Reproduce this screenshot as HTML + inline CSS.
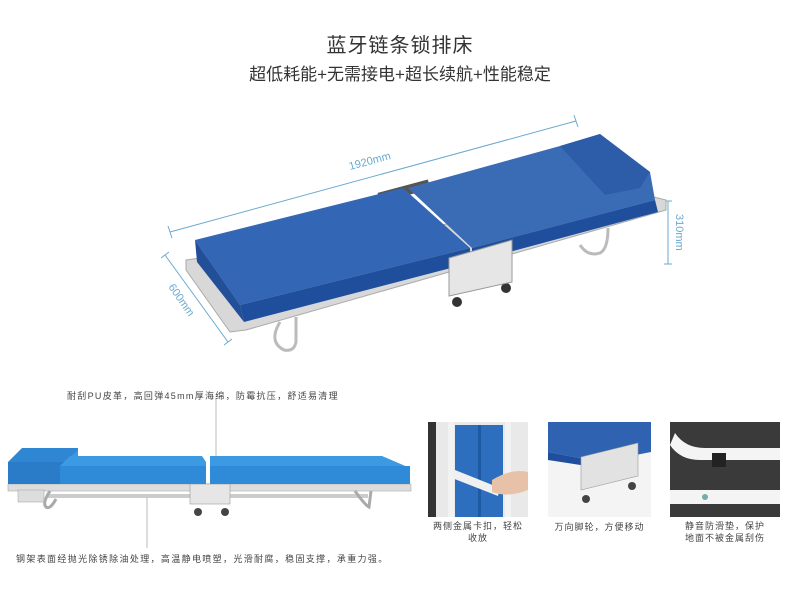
<!DOCTYPE html>
<html><head><meta charset="utf-8"><style>
html,body{margin:0;padding:0;background:#fff;}
body{width:800px;height:600px;position:relative;overflow:hidden;font-family:"Liberation Sans","Noto Sans CJK SC",sans-serif;color:#333;}
.t{position:absolute;white-space:nowrap;}
</style></head><body>
<div class="t" style="left:0;width:800px;text-align:center;top:29px;font-size:20px;color:#333;letter-spacing:1px;">蓝牙链条锁排床</div>
<div class="t" style="left:0;width:800px;text-align:center;top:60px;font-size:17px;color:#333;">超低耗能+无需接电+超长续航+性能稳定</div>

<svg width="800" height="600" style="position:absolute;left:0;top:0" xmlns="http://www.w3.org/2000/svg">
<g stroke="#6aaad0" stroke-width="1" fill="none">
<line x1="170" y1="232" x2="576" y2="121"/><line x1="168" y1="226" x2="172" y2="238"/><line x1="574" y1="115" x2="578" y2="127"/>
<line x1="165" y1="255" x2="228" y2="342"/><line x1="161" y1="258" x2="169" y2="252"/><line x1="224" y1="345" x2="232" y2="339"/>
<line x1="668" y1="201" x2="668" y2="264"/><line x1="664" y1="201" x2="672" y2="201"/><line x1="664" y1="264" x2="672" y2="264"/>
</g>
<text x="350" y="170" font-size="11" fill="#6aaad0" transform="rotate(-15 350 170)" font-family="Liberation Sans">1920mm</text>
<text x="168" y="287" font-size="11" fill="#6aaad0" transform="rotate(55 168 287)" font-family="Liberation Sans">600mm</text>
<text x="676" y="214" font-size="11" fill="#6aaad0" transform="rotate(90 676 214)" font-family="Liberation Sans">310mm</text>

<rect x="378" y="186" width="52" height="10" fill="#555" transform="rotate(-15 404 191)"/>
<polygon points="186,260 650,196 666,200 666,210 246,330 230,332 186,270" fill="#d8d8d8" stroke="#aaa" stroke-width="1"/>
<path d="M280,322 q-12,20 4,28 q10,2 12,-8 l0,-25" fill="none" stroke="#bbb" stroke-width="3"/>
<path d="M580,245 q8,12 20,8 q8,-4 8,-25" fill="none" stroke="#bbb" stroke-width="3"/>
<circle cx="457" cy="302" r="5" fill="#333"/><circle cx="506" cy="288" r="5" fill="#333"/>
<polygon points="195,240 403,188 470,248 240,305" fill="#3366b4"/>
<polygon points="240,305 470,248 470,263 244,322" fill="#1f4f9c"/>
<polygon points="195,240 240,305 244,322 197,262" fill="#234f99"/>
<polygon points="408,188 560,146 600,134 650,172 655,200 472,248" fill="#3a6cb6"/>
<polygon points="560,146 600,134 650,172 640,188 605,195" fill="#2d5ca8"/>
<polygon points="472,248 655,200 658,212 472,262" fill="#1f4f9c"/>
<polygon points="449,258 512,240 512,282 449,296" fill="#e6e6e6" stroke="#999" stroke-width="1"/>

<rect x="8" y="484" width="403" height="7" fill="#ddd" stroke="#aaa" stroke-width="0.6"/>
<rect x="48" y="494" width="320" height="4" fill="#ccc"/>
<rect x="18" y="490" width="26" height="12" fill="#ddd" stroke="#aaa" stroke-width="0.6"/>
<path d="M50,491 q-8,12 -4,16 q4,3 10,-8" fill="none" stroke="#aaa" stroke-width="3"/>
<path d="M355,491 q10,14 14,16 l2,-16" fill="none" stroke="#aaa" stroke-width="3"/>
<rect x="190" y="484" width="40" height="20" fill="#e6e6e6" stroke="#999" stroke-width="0.6"/>
<circle cx="198" cy="512" r="4" fill="#444"/><circle cx="225" cy="512" r="4" fill="#444"/>
<polygon points="8,462 22,448 78,448 78,470 60,484 8,484" fill="#2f86d2"/>
<polygon points="8,462 64,462 64,484 8,484" fill="#2a7cc8"/>
<polygon points="64,462 78,450 78,470 64,484" fill="#3a97e0"/>
<polygon points="60,466 70,456 202,456 206,462 206,484 60,484" fill="#3c9ae2"/>
<polygon points="60,466 206,466 206,484 60,484" fill="#2f8ad8"/>
<polygon points="210,456 382,456 410,468 410,484 210,484" fill="#3c9ae2"/>
<polygon points="210,466 410,466 410,484 210,484" fill="#2f8ad8"/>
<line x1="216" y1="398" x2="216" y2="456" stroke="#bbb" stroke-width="1"/>
<line x1="147" y1="497" x2="147" y2="548" stroke="#bbb" stroke-width="1"/>

<rect x="428" y="422" width="100" height="95" fill="#e9e9e9"/>
<rect x="428" y="422" width="8" height="95" fill="#333"/>
<rect x="455" y="425" width="48" height="92" fill="#2d6fbe"/>
<rect x="478" y="425" width="3" height="92" fill="#1e5aa3"/>
<rect x="448" y="422" width="6" height="95" fill="#f2f2f2"/>
<rect x="505" y="422" width="6" height="95" fill="#f2f2f2"/>
<polygon points="455,470 500,488 498,496 452,478" fill="#f0f0f0"/>
<path d="M492,480 q20,-12 36,-8 l0,18 q-20,8 -36,2z" fill="#e8c2a8"/>
<rect x="548" y="422" width="103" height="95" fill="#f4f4f4"/>
<polygon points="548,422 651,422 651,452 600,462 548,452" fill="#2f63b2"/>
<polygon points="548,452 600,462 600,468 548,460" fill="#1f4f9c"/>
<polygon points="581,457 638,443 638,476 581,490" fill="#e2e2e2" stroke="#999" stroke-width="0.6"/>
<circle cx="586" cy="499" r="4" fill="#444"/><circle cx="632" cy="486" r="4" fill="#444"/>
<rect x="670" y="422" width="110" height="95" fill="#3a3a3a"/>
<path d="M670,445 q10,15 30,15 l80,0 l0,-12 l-75,0 q-20,0 -30,-15z" fill="#f4f4f4"/>
<rect x="712" y="453" width="14" height="14" fill="#222"/>
<rect x="670" y="490" width="110" height="14" fill="#f4f4f4"/>
<circle cx="705" cy="497" r="3" fill="#7aa"/>
</svg>

<div class="t" style="left:67px;top:389px;font-size:9px;color:#444;letter-spacing:1.3px;">耐刮PU皮革，高回弹45mm厚海绵，防霉抗压，舒适易清理</div>
<div class="t" style="left:16px;top:552px;font-size:9px;color:#444;letter-spacing:1.35px;">钢架表面经抛光除锈除油处理，高温静电喷塑，光滑耐腐，稳固支撑，承重力强。</div>
<div class="t" style="left:428px;top:520px;font-size:9px;color:#444;width:100px;text-align:center;line-height:12px;letter-spacing:1px;">两侧金属卡扣，轻松<br>收放</div>
<div class="t" style="left:548px;top:520px;font-size:9px;color:#444;width:103px;text-align:center;letter-spacing:1px;">万向脚轮，方便移动</div>
<div class="t" style="left:670px;top:520px;font-size:9px;color:#444;width:110px;text-align:center;line-height:12px;letter-spacing:1px;">静音防滑垫，保护<br>地面不被金属刮伤</div>
</body></html>
